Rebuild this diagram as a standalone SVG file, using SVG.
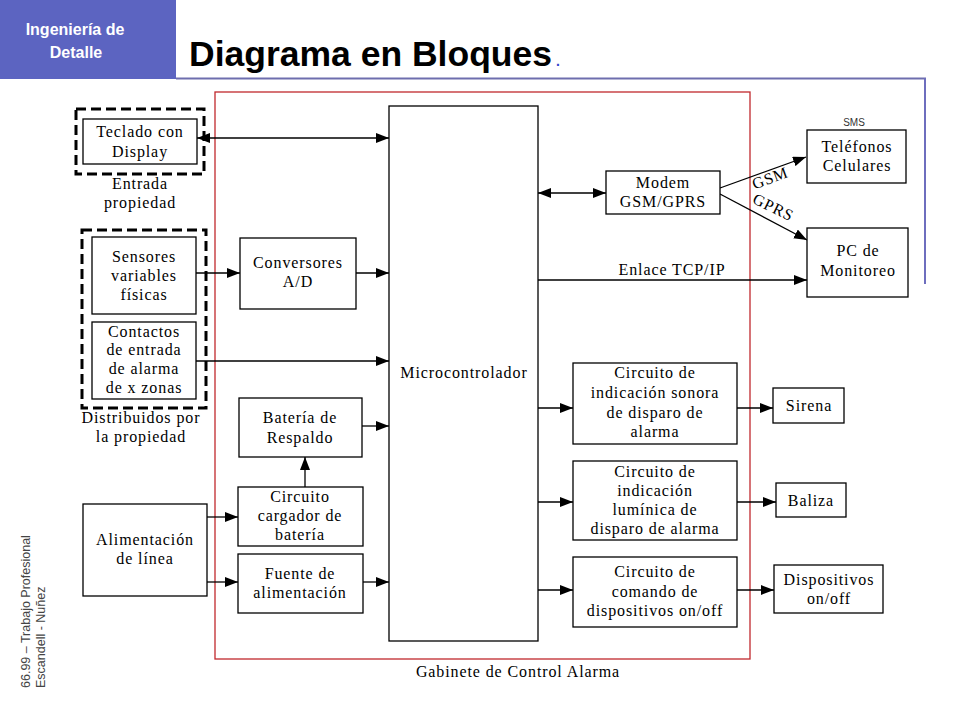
<svg xmlns="http://www.w3.org/2000/svg" width="960" height="720" viewBox="0 0 960 720">
<style>
.t{font-family:"Liberation Serif","Times New Roman",serif;font-size:16px;letter-spacing:0.9px;text-anchor:middle;fill:#000}
.b{fill:#fff;stroke:#000;stroke-width:1.3}
.d{fill:none;stroke:#000;stroke-width:3;stroke-dasharray:10,5}
.c{fill:none;stroke:#000;stroke-width:1.3}
.f{font-family:"Liberation Sans",Arial,sans-serif;font-size:12.5px;fill:#444}
</style>
<defs>
<marker id="ah" viewBox="0 0 13 10" refX="13" refY="5" markerWidth="13" markerHeight="10" markerUnits="userSpaceOnUse" orient="auto-start-reverse">
<path d="M0,0 L13,5 L0,10 z" fill="#000"/>
</marker>
</defs>
<rect width="960" height="720" fill="#fff"/>
<g id="header">
<rect x="0" y="0" width="176" height="79" fill="#5C64C1"/>
<text x="75" y="35" font-family="'Liberation Sans',Arial,sans-serif" font-size="16" font-weight="bold" fill="#fff" text-anchor="middle">Ingeniería de</text>
<text x="76" y="58" font-family="'Liberation Sans',Arial,sans-serif" font-size="16" font-weight="bold" fill="#fff" text-anchor="middle">Detalle</text>
<text x="189" y="66" font-family="'Liberation Sans',Arial,sans-serif" font-size="35.5" font-weight="bold" fill="#000">Diagrama en Bloques<tspan font-size="14" fill="#3344cc" dx="4">.</tspan></text>
<line x1="176" y1="78.5" x2="926" y2="78.5" stroke="#6E6EAE" stroke-width="2"/>
<line x1="925" y1="78" x2="925" y2="284" stroke="#6E6EBE" stroke-width="2"/>
</g>
<g id="footer">
<text class="f" transform="translate(30,688) rotate(-90)">66.99 – Trabajo Profesional</text>
<text class="f" transform="translate(45,688) rotate(-90)">Escandell - Nuñez</text>
</g>
<g id="gabinete">
<rect x="215" y="92" width="535" height="567" fill="none" stroke="#C0282D" stroke-width="1.3"/>
<text class="t" x="518" y="677">Gabinete de Control Alarma</text>
</g>
<g id="connectors">
<line class="c" x1="197" y1="138" x2="389" y2="138" marker-start="url(#ah)" marker-end="url(#ah)"/>
<line class="c" x1="196" y1="273" x2="240" y2="273" marker-end="url(#ah)"/>
<line class="c" x1="356" y1="273" x2="389" y2="273" marker-end="url(#ah)"/>
<line class="c" x1="196" y1="361" x2="389" y2="361" marker-end="url(#ah)"/>
<line class="c" x1="362" y1="426" x2="389" y2="426" marker-end="url(#ah)"/>
<line class="c" x1="305" y1="487" x2="305" y2="457" marker-end="url(#ah)"/>
<line class="c" x1="207" y1="517" x2="238" y2="517" marker-end="url(#ah)"/>
<line class="c" x1="207" y1="582" x2="238" y2="582" marker-end="url(#ah)"/>
<line class="c" x1="363" y1="582" x2="389" y2="582" marker-end="url(#ah)"/>
<line class="c" x1="538" y1="193" x2="606" y2="193" marker-start="url(#ah)" marker-end="url(#ah)"/>
<line class="c" x1="720" y1="188" x2="806" y2="157" marker-end="url(#ah)"/>
<line class="c" x1="720" y1="194" x2="807" y2="240" marker-end="url(#ah)"/>
<line class="c" x1="538" y1="280" x2="807" y2="280" marker-end="url(#ah)"/>
<line class="c" x1="538" y1="408" x2="573" y2="408" marker-end="url(#ah)"/>
<line class="c" x1="737" y1="408" x2="773" y2="408" marker-end="url(#ah)"/>
<line class="c" x1="538" y1="502" x2="573" y2="502" marker-end="url(#ah)"/>
<line class="c" x1="737" y1="502" x2="776" y2="502" marker-end="url(#ah)"/>
<line class="c" x1="538" y1="590" x2="573" y2="590" marker-end="url(#ah)"/>
<line class="c" x1="737" y1="590" x2="774" y2="590" marker-end="url(#ah)"/>
<text class="t" transform="translate(772,183) rotate(-20)">GSM</text>
<text class="t" transform="translate(771,212) rotate(26)">GPRS</text>
<text class="t" x="672" y="275">Enlace TCP/IP</text>
</g>
<g id="entrada-propiedad">
<rect class="d" x="76" y="109" width="128" height="65"/>
<text class="t" x="140" y="189">Entrada</text>
<text class="t" x="140" y="208">propiedad</text>
</g>
<g id="teclado">
<rect class="b" x="83" y="119" width="114" height="45"/>
<text class="t" x="140" y="137">Teclado con</text>
<text class="t" x="140" y="157">Display</text>
</g>
<g id="distribuidos">
<rect class="d" x="82" y="230" width="124" height="178"/>
<text class="t" x="141" y="423">Distribuidos por</text>
<text class="t" x="141" y="442">la propiedad</text>
</g>
<g id="sensores">
<rect class="b" x="92" y="237" width="104" height="77"/>
<text class="t" x="144" y="262">Sensores</text>
<text class="t" x="144" y="281">variables</text>
<text class="t" x="144" y="300">físicas</text>
</g>
<g id="contactos">
<rect class="b" x="92" y="322" width="104" height="77"/>
<text class="t" x="144" y="337">Contactos</text>
<text class="t" x="144" y="355">de entrada</text>
<text class="t" x="144" y="374">de alarma</text>
<text class="t" x="144" y="393">de x zonas</text>
</g>
<g id="conversores">
<rect class="b" x="240" y="238" width="116" height="71"/>
<text class="t" x="298" y="268">Conversores</text>
<text class="t" x="298" y="287">A/D</text>
</g>
<g id="bateria">
<rect class="b" x="239" y="398" width="123" height="59"/>
<text class="t" x="300" y="423">Batería de</text>
<text class="t" x="300" y="443">Respaldo</text>
</g>
<g id="cargador">
<rect class="b" x="238" y="487" width="125" height="59"/>
<text class="t" x="300" y="502">Circuito</text>
<text class="t" x="300" y="521">cargador de</text>
<text class="t" x="300" y="540">batería</text>
</g>
<g id="fuente">
<rect class="b" x="238" y="554" width="125" height="59"/>
<text class="t" x="300" y="579">Fuente de</text>
<text class="t" x="300" y="598">alimentación</text>
</g>
<g id="alimentacion">
<rect class="b" x="83" y="504" width="124" height="92"/>
<text class="t" x="145" y="545">Alimentación</text>
<text class="t" x="145" y="564">de línea</text>
</g>
<g id="microcontrolador">
<rect class="b" x="389" y="106" width="149" height="535"/>
<text class="t" x="464" y="378">Microcontrolador</text>
</g>
<g id="modem">
<rect class="b" x="606" y="171" width="114" height="43"/>
<text class="t" x="663" y="188">Modem</text>
<text class="t" x="663" y="207">GSM/GPRS</text>
</g>
<g id="telefonos">
<text x="854" y="126" font-family="'Liberation Sans',Arial,sans-serif" font-size="10" fill="#333" text-anchor="middle">SMS</text>
<rect class="b" x="807" y="130" width="99" height="53"/>
<text class="t" x="857" y="152">Teléfonos</text>
<text class="t" x="857" y="171">Celulares</text>
</g>
<g id="pc">
<rect class="b" x="807" y="228" width="101" height="69"/>
<text class="t" x="858" y="256">PC de</text>
<text class="t" x="858" y="276">Monitoreo</text>
</g>
<g id="sonora">
<rect class="b" x="573" y="363" width="164" height="81"/>
<text class="t" x="655" y="378">Circuito de</text>
<text class="t" x="655" y="398">indicación sonora</text>
<text class="t" x="655" y="418">de disparo de</text>
<text class="t" x="655" y="437">alarma</text>
</g>
<g id="luminica">
<rect class="b" x="573" y="461" width="164" height="79"/>
<text class="t" x="655" y="477">Circuito de</text>
<text class="t" x="655" y="496">indicación</text>
<text class="t" x="655" y="515">lumínica de</text>
<text class="t" x="655" y="534">disparo de alarma</text>
</g>
<g id="comando">
<rect class="b" x="573" y="557" width="164" height="70"/>
<text class="t" x="655" y="577">Circuito de</text>
<text class="t" x="655" y="597">comando de</text>
<text class="t" x="655" y="616">dispositivos on/off</text>
</g>
<g id="sirena">
<rect class="b" x="773" y="388" width="71" height="35"/>
<text class="t" x="809" y="411">Sirena</text>
</g>
<g id="baliza">
<rect class="b" x="776" y="483" width="70" height="34"/>
<text class="t" x="811" y="506">Baliza</text>
</g>
<g id="dispositivos">
<rect class="b" x="774" y="565" width="109" height="48"/>
<text class="t" x="829" y="585">Dispositivos</text>
<text class="t" x="829" y="604">on/off</text>
</g>
</svg>
